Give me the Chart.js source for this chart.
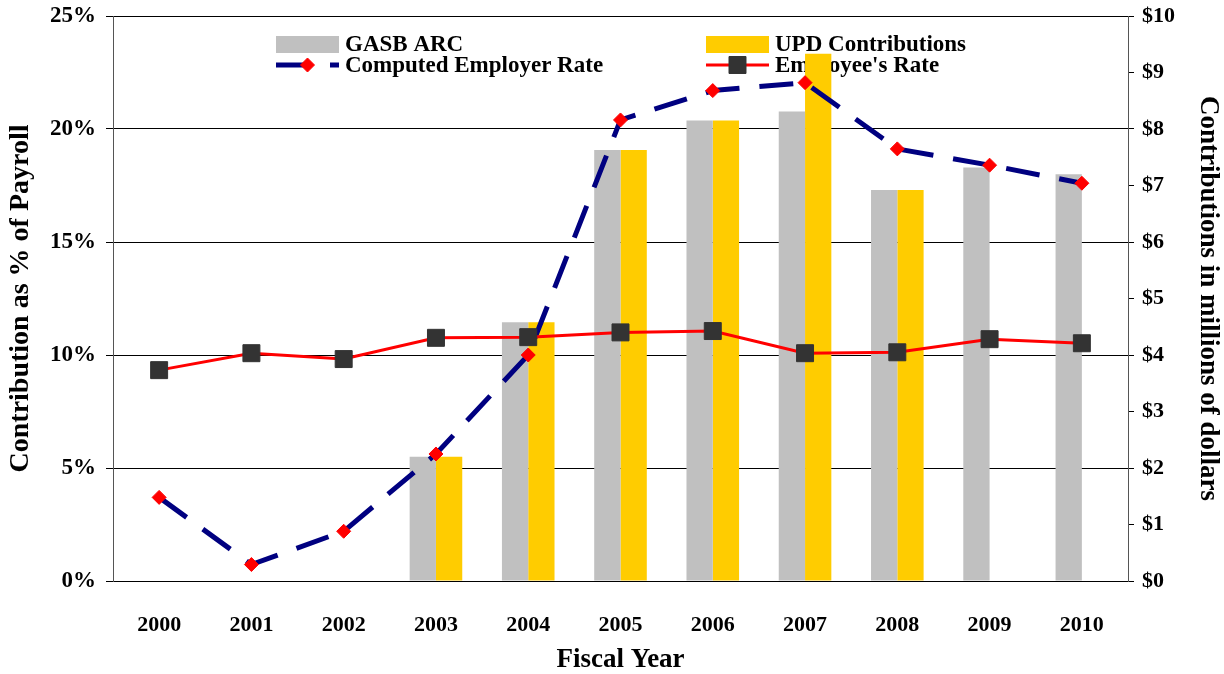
<!DOCTYPE html>
<html><head><meta charset="utf-8">
<script src="https://cdn.jsdelivr.net/npm/chart.js@4/dist/chart.umd.min.js"></script>
<style>html,body{margin:0;padding:0;background:#fff}#wrap{width:1224px;height:674px;position:relative}</style>
</head><body><div id="wrap"><canvas id="c" width="1224" height="674"></canvas></div>
<script>
const years = ['2000','2001','2002','2003','2004','2005','2006','2007','2008','2009','2010'];
const gasbArc = [null,null,null,2.2,4.58,7.63,8.15,8.31,6.92,7.32,7.2];
const updContrib = [null,null,null,2.2,4.58,7.63,8.15,9.33,6.92,null,null];
const employerRate = [3.7,0.73,2.2,5.62,10.0,20.4,21.7,22.05,19.12,18.4,17.6];
const employeeRate = [9.33,10.08,9.82,10.76,10.79,11.0,11.06,10.08,10.12,10.7,10.52];
const pctTicks = [0,5,10,15,20,25];
const dollarTicks = [0,1,2,3,4,5,6,7,8,9,10];

const FONT = "'Liberation Serif','Times New Roman',serif";

const legendPlugin = {
  id: 'customLegend',
  beforeDatasetsDraw(chart) {
    const ctx = chart.ctx;
    const ds = chart.data.datasets;
    ctx.save();
    ctx.font = "bold 23px " + FONT;
    ctx.fillStyle = '#000';
    ctx.textBaseline = 'middle';
    const cols = [276, 706];
    const rows = [44, 65];
    const boxW = 63;
    [0,1].forEach((i) => {
      const d = ds[i];
      ctx.fillStyle = d.backgroundColor;
      ctx.fillRect(cols[i], rows[0]-8, boxW, 17);
      ctx.fillStyle = '#000';
      ctx.fillText(d.label, cols[i] + boxW + 6, rows[0]+1);
    });
    [2,3].forEach((i, k) => {
      const d = ds[i];
      const x0 = cols[k], y = rows[1];
      ctx.save();
      ctx.strokeStyle = d.borderColor;
      ctx.lineWidth = d.borderWidth;
      if (d.borderDash) ctx.setLineDash(d.borderDash);
      ctx.beginPath(); ctx.moveTo(x0, y); ctx.lineTo(x0 + boxW, y); ctx.stroke();
      ctx.restore();
      ctx.save();
      ctx.fillStyle = d.pointBackgroundColor;
      ctx.strokeStyle = d.pointBorderColor;
      ctx.lineWidth = 1;
      Chart.helpers.drawPoint(ctx, {pointStyle: d.pointStyle, radius: d.pointRadius, borderWidth: 1, rotation: 0}, x0 + boxW/2, y);
      ctx.restore();
      ctx.fillStyle = '#000';
      ctx.fillText(d.label, x0 + boxW + 6, y+1);
    });
    ctx.restore();
  }
};

new Chart(document.getElementById('c'), {
  data: {
    labels: years,
    datasets: [
      { type:'bar', label:'GASB ARC', data: gasbArc, backgroundColor:'#C0C0C0', yAxisID:'y1', order:3,
        categoryPercentage:0.57, barPercentage:1.0 },
      { type:'bar', label:'UPD Contributions', data: updContrib, backgroundColor:'#FFCC00', yAxisID:'y1', order:3,
        categoryPercentage:0.57, barPercentage:1.0 },
      { type:'line', label:'Computed Employer Rate', data: employerRate, borderColor:'#000080', borderWidth:5,
        borderDash:[34,20], pointStyle:'rectRot', pointRadius:7, pointBackgroundColor:'#FF0000', pointBorderColor:'#FF0000',
        pointBorderWidth:1, yAxisID:'y', order:2, tension:0, fill:false },
      { type:'line', label:"Employee's Rate", data: employeeRate, borderColor:'#FF0000', borderWidth:3,
        pointStyle:'rect', pointRadius:12, pointBackgroundColor:'#333333', pointBorderColor:'#333333',
        pointBorderWidth:1, yAxisID:'y', order:1, tension:0, fill:false }
    ]
  },
  options: {
    responsive:false, animation:false, devicePixelRatio:1,
    layout:{ padding:{ top:16, left:0, right:0, bottom:0 } },
    plugins:{ legend:{display:false}, tooltip:{enabled:false} },
    scales:{
      x:{
        offset:true,
        grid:{ display:false },
        border:{ display:true, color:'#000', width:1 },
        ticks:{ color:'#000', font:{ family:FONT, size:22, weight:'bold' }, padding:23, maxRotation:0, autoSkip:false },
        title:{ display:true, text:'Fiscal Year', color:'#000', font:{ family:FONT, size:27, weight:'bold', lineHeight:1.0 }, padding:{top:0,bottom:0} },
        afterFit(s){ s.height = 93; s.paddingLeft = 0; s.paddingRight = 0; }
      },
      y:{
        position:'left', min:0, max:25,
        afterBuildTicks(s){ s.ticks = pctTicks.map(v=>({value:v})); },
        grid:{ color:'#000', lineWidth:1, tickLength:7, drawTicks:true },
        border:{ display:true, color:'#555', width:1 },
        ticks:{ color:'#000', font:{ family:FONT, size:23, weight:'bold' }, padding:10, callback:(v)=>v+'%' },
        title:{ display:true, text:'Contribution as % of Payroll', color:'#000', font:{ family:FONT, size:28, weight:'bold' }, padding:{top:4,bottom:0} },
        afterFit(s){ s.width = 113; s.paddingTop = 0; s.paddingBottom = 0; }
      },
      y1:{
        position:'right', min:0, max:10,
        afterBuildTicks(s){ s.ticks = dollarTicks.map(v=>({value:v})); },
        grid:{ drawOnChartArea:false, color:'#000', tickLength:6 },
        border:{ display:true, color:'#555', width:1 },
        ticks:{ color:'#000', font:{ family:FONT, size:22, weight:'bold' }, padding:8, callback:(v)=>'$'+v },
        title:{ display:true, text:'Contributions in millions of dollars', color:'#000', font:{ family:FONT, size:27, weight:'bold' }, padding:{top:0,bottom:0} },
        afterFit(s){ s.width = 96; s.paddingTop = 0; s.paddingBottom = 0; }
      }
    }
  },
  plugins:[legendPlugin]
});
</script>
</body></html>
